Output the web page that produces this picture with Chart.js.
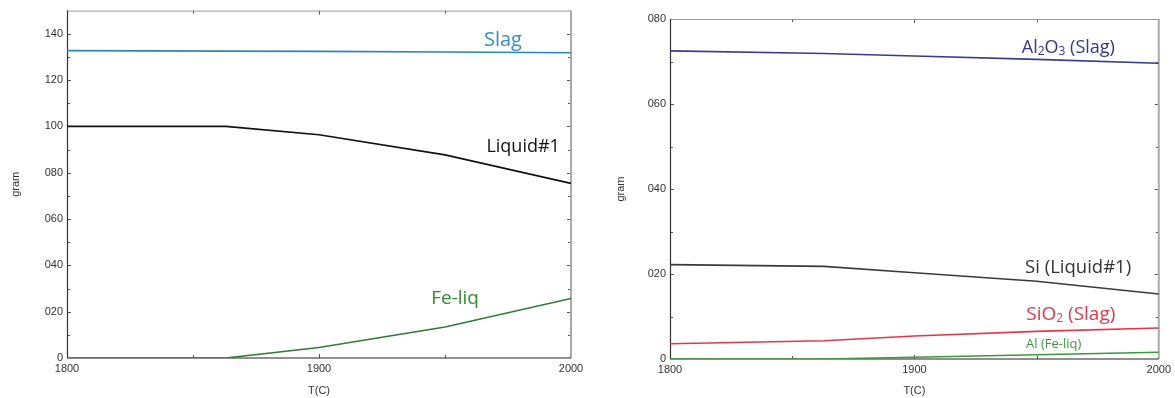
<!DOCTYPE html>
<html lang="en">
<head>
<meta charset="UTF-8">
<title>Equilibrium masses vs temperature</title>
<style>
  body { margin: 0; background: #fff; }
  #wrap { position: relative; width: 1175px; height: 398px; }
  canvas { position: absolute; top: 0; }
</style>
<script src="https://cdn.jsdelivr.net/npm/chart.js"></script>
</head>
<body>
<div id="wrap">
  <canvas id="phaseChart" width="600" height="398" style="left:0"></canvas>
  <canvas id="speciesChart" width="585" height="398" style="left:590px"></canvas>
</div>
<script>
// temperatures (C) shared by every series
const temps = [1800, 1863, 1900, 1950, 2000];

// phase masses (gram)
const slagMass   = [132.7, 132.5, 132.4, 132.1, 131.8];
const liquidMass = [100.0, 100.0, 96.4, 87.7, 75.4];
const feLiqMass  = [0, 0, 4.5, 13.4, 25.7];

// species masses (gram)
const al2o3Slag = [72.5, 71.9, 71.3, 70.5, 69.6];
const siLiquid  = [22.2, 21.8, 20.3, 18.3, 15.3];
const sio2Slag  = [3.6, 4.3, 5.4, 6.5, 7.3];
const alFeLiq   = [0, 0, 0.4, 1.0, 1.6];

// tick labels
const xTickValues = [1800, 1900, 2000];
const leftYTickValues = [0, 20, 40, 60, 80, 100, 120, 140];
const leftYTickLabels = ['0', '020', '040', '060', '080', '100', '120', '140'];
const rightYTickValues = [0, 20, 40, 60, 80];
const rightYTickLabels = ['0', '020', '040', '060', '080'];

const tickFont = { family: 'Liberation Sans, Arial, sans-serif', size: 11 };
const labelFamily = '"Open Sans", "Noto Sans", sans-serif';

function pts(arr) {
  return temps.map((t, i) => ({ x: t, y: arr[i] }));
}

// box around the plot with small inward tick marks on all four sides
const framePlugin = {
  id: 'frame',
  beforeDatasetsDraw(chart) {
    const { ctx, chartArea: a, scales: { x, y } } = chart;
    const seg = (x1, y1, x2, y2) => { ctx.beginPath(); ctx.moveTo(x1, y1); ctx.lineTo(x2, y2); ctx.stroke(); };
    ctx.save();
    ctx.lineWidth = 1;
    ctx.strokeStyle = '#555';
    x.ticks.forEach(t => {
      if (t.value <= x.min || t.value >= x.max) return;
      const px = Math.round(x.getPixelForValue(t.value)) + 0.5;
      const len = t.label ? 4 : 3;
      seg(px, a.bottom, px, a.bottom - len);
      seg(px, a.top, px, a.top + len);
    });
    y.ticks.forEach(t => {
      if (t.value <= y.min || t.value >= y.max) return;
      const py = Math.round(y.getPixelForValue(t.value)) + 0.5;
      const len = t.label ? 4 : 3;
      seg(a.left, py, a.left + len, py);
      seg(a.right, py, a.right - len, py);
    });
    ctx.strokeStyle = '#999';
    seg(a.left, a.top + 0.5, a.right, a.top + 0.5);
    ctx.lineWidth = 2;
    ctx.strokeStyle = '#aaa';
    seg(a.right, a.top, a.right, a.bottom);
    ctx.lineWidth = 1.2;
    ctx.strokeStyle = '#333';
    seg(a.left + 0.5, a.top, a.left + 0.5, a.bottom);
    ctx.strokeStyle = '#222';
    seg(a.left, a.bottom, a.right, a.bottom);
    ctx.restore();
  }
};

// curve names written next to the lines; parts flagged sub are subscripts
const curveLabelPlugin = {
  id: 'curveLabels',
  afterDatasetsDraw(chart, args, opts) {
    const { ctx, scales: { x, y } } = chart;
    ctx.save();
    ctx.textBaseline = 'alphabetic';
    (opts.items || []).forEach(item => {
      const subSize = Math.round(item.size * 0.65);
      const fontFor = p => (p.sub ? subSize : item.size) + 'px ' + labelFamily;
      let total = 0;
      item.parts.forEach(p => { ctx.font = fontFor(p); total += ctx.measureText(p.text).width; });
      let cx = x.getPixelForValue(item.t) - total / 2;
      const base = y.getPixelForValue(item.v) + item.size * 0.36;
      ctx.fillStyle = item.color;
      item.parts.forEach(p => {
        ctx.font = fontFor(p);
        ctx.textAlign = 'left';
        ctx.fillText(p.text, cx, p.sub ? base + item.size * 0.12 : base);
        cx += ctx.measureText(p.text).width;
      });
    });
    ctx.restore();
  }
};

function makeChart(id, cfg) {
  return new Chart(document.getElementById(id), {
    type: 'line',
    data: {
      datasets: cfg.series.map(s => ({
        data: pts(s.values),
        borderColor: s.color,
        borderWidth: 1.6,
        pointRadius: 0,
        tension: 0,
        fill: false
      }))
    },
    options: {
      responsive: false,
      animation: false,
      layout: { padding: cfg.padding },
      plugins: {
        legend: { display: false },
        tooltip: { enabled: false },
        curveLabels: { items: cfg.labels }
      },
      scales: {
        x: {
          type: 'linear',
          min: 1800,
          max: 2000,
          grid: { display: false, drawTicks: false },
          border: { display: false },
          afterFit: s => { s.height = cfg.xHeight; },
          ticks: {
            stepSize: 50,
            autoSkip: false,
            maxRotation: 0,
            padding: 4,
            color: '#333',
            font: tickFont,
            callback: v => xTickValues.includes(v) ? String(v) : ''
          },
          title: { display: true, text: 'T(C)', color: '#333', font: tickFont, padding: { top: 0, bottom: 0 } }
        },
        y: {
          min: 0,
          max: cfg.yMax,
          grid: { display: false, drawTicks: false },
          border: { display: false },
          afterFit: s => { s.width = cfg.yWidth; },
          ticks: {
            stepSize: 10,
            autoSkip: false,
            padding: 4,
            color: '#333',
            font: tickFont,
            callback: v => {
              const i = cfg.yTickValues.indexOf(v);
              return i >= 0 ? cfg.yTickLabels[i] : '';
            }
          },
          title: { display: true, text: 'gram', color: '#333', font: tickFont, padding: { top: cfg.yTitlePad, bottom: 0 } }
        }
      }
    },
    plugins: [framePlugin, curveLabelPlugin]
  });
}

makeChart('phaseChart', {
  padding: { left: 0, right: 29, top: 10, bottom: 0 },
  xHeight: 40,
  yWidth: 67,
  yMax: 150,
  yTitlePad: 9,
  yTickValues: leftYTickValues,
  yTickLabels: leftYTickLabels,
  series: [
    { values: slagMass, color: '#2a86b8' },
    { values: liquidMass, color: '#111111' },
    { values: feLiqMass, color: '#2e7d32' }
  ],
  labels: [
    { parts: [{ text: 'Slag' }], t: 1973, v: 137.7, size: 20, color: '#3a8cc0' },
    { parts: [{ text: 'Liquid#1' }], t: 1981, v: 91.6, size: 18, color: '#111111' },
    { parts: [{ text: 'Fe-liq' }], t: 1954, v: 26.1, size: 19, color: '#2e8b2e' }
  ]
});

makeChart('speciesChart', {
  padding: { left: 0, right: 14, top: 19, bottom: 0 },
  xHeight: 39,
  yWidth: 80,
  yMax: 80,
  yTitlePad: 24,
  yTickValues: rightYTickValues,
  yTickLabels: rightYTickLabels,
  series: [
    { values: al2o3Slag, color: '#3a3a95' },
    { values: siLiquid, color: '#3a3a3a' },
    { values: sio2Slag, color: '#e8344a' },
    { values: alFeLiq, color: '#3a9a3a' }
  ],
  labels: [
    { parts: [{ text: 'Al' }, { text: '2', sub: true }, { text: 'O' }, { text: '3', sub: true }, { text: ' (Slag)' }],
      t: 1963, v: 73.5, size: 18, color: '#35358f' },
    { parts: [{ text: 'Si (Liquid#1)' }], t: 1967, v: 21.7, size: 18.5, color: '#333333' },
    { parts: [{ text: 'SiO' }, { text: '2', sub: true }, { text: ' (Slag)' }], t: 1964, v: 10.9, size: 19, color: '#e8344a' },
    { parts: [{ text: 'Al (Fe-liq)' }], t: 1957, v: 3.8, size: 13, color: '#3a9a3a' }
  ]
});
</script>
</body>
</html>
